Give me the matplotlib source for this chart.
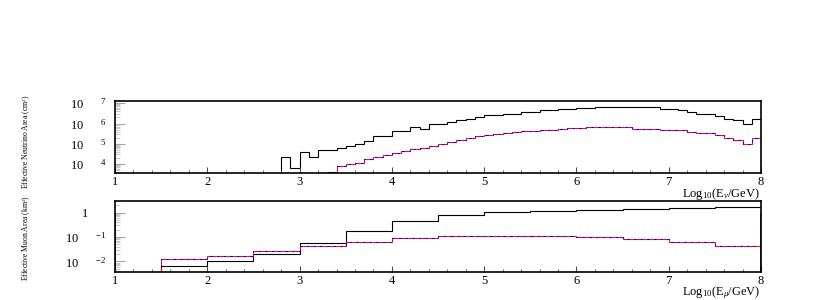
import numpy as np
import matplotlib
matplotlib.use("Agg")
import matplotlib.pyplot as plt
from matplotlib.ticker import LogLocator, NullFormatter, FixedLocator, MultipleLocator

plt.rcParams['font.family'] = ['Liberation Serif', 'DejaVu Serif']
plt.rcParams['mathtext.fontset'] = 'custom'
plt.rcParams['mathtext.rm'] = 'Liberation Serif'
plt.rcParams['mathtext.it'] = 'Liberation Serif:italic'

# neutrino effective area, log10(cm^2), bins of 0.1 in log10(E/GeV)
nu_black_start = 2.8
nu_black = [4.34, 3.82, 4.59, 4.36, 4.69, 4.69, 4.80, 4.91, 5.01, 5.15,
            5.38, 5.38, 5.62, 5.63, 5.82, 5.75, 6.00, 6.00, 6.08, 6.16,
            6.24, 6.33, 6.41, 6.41, 6.49, 6.49, 6.57, 6.57, 6.66, 6.66,
            6.72, 6.72, 6.77, 6.77, 6.82, 6.82, 6.82, 6.82, 6.81, 6.81,
            6.80, 6.72, 6.72, 6.66, 6.57, 6.49, 6.49, 6.36, 6.23, 6.16,
            5.98, 6.24]
nu_color_start = 3.2
nu_red = [3.50, 3.62, 3.90, 3.98, 4.06, 4.23, 4.34, 4.44,
          4.56, 4.64, 4.72, 4.80, 4.88, 5.00, 5.10, 5.18, 5.29, 5.38,
          5.42, 5.46, 5.51, 5.57, 5.62, 5.65, 5.68, 5.70, 5.74, 5.79,
          5.80, 5.82, 5.83, 5.83, 5.83, 5.83, 5.75, 5.75, 5.75, 5.70,
          5.70, 5.67, 5.59, 5.51, 5.51, 5.41, 5.29, 5.21, 5.01, 5.29]
nu_blue = [3.50, 3.62, 3.90, 3.98, 4.06, 4.23, 4.34, 4.44,
           4.56, 4.64, 4.72, 4.80, 4.88, 5.00, 5.10, 5.18, 5.29, 5.38,
           5.42, 5.46, 5.51, 5.57, 5.62, 5.65, 5.68, 5.70, 5.74, 5.79,
           5.80, 5.82, 5.83, 5.83, 5.83, 5.83, 5.75, 5.75, 5.75, 5.70,
           5.70, 5.67, 5.59, 5.51, 5.51, 5.41, 5.29, 5.21, 5.01, 5.29]

# muon effective area, log10(km^2), bins of 0.5
mu_start = 1.5
mu_black = [-2.18, -1.97, -1.69, -1.26, -0.74, -0.33, -0.09,
            0.02, 0.08, 0.11, 0.15, 0.18, 0.21]
mu_red = [-1.91, -1.76, -1.58, -1.37, -1.19, -1.05, -0.97,
          -0.95, -0.96, -1.01, -1.08, -1.19, -1.38]
mu_blue = [-1.91, -1.76, -1.58, -1.37, -1.19, -1.05, -0.97,
           -0.95, -0.96, -1.01, -1.08, -1.19, -1.38]
# the coloured histograms also leave a spike at both ends of the range
mu_spike_x = [1.0, 8.0]
mu_spike_val = [0.0, 0.0]

nu_ticks = [4, 5, 6, 7]
mu_ticks = [-2, -1, 0]


def edges(start, n, width):
    return np.round(start + width*np.arange(n + 1), 2)


def pow_label(e):
    # ROOT style: "10" with the exponent pushed well to the right
    if e == 0:
        return '1\u2003\u2002'
    return r'$\mathrm{10\qquad}^{%d}$' % e


def style(ax, ymin, ymax, ticks):
    ax.set_xlim(1, 8)
    ax.set_yscale('log')
    ax.set_ylim(10**ymin, 10**ymax)
    ax.xaxis.set_major_locator(MultipleLocator(1))
    ax.xaxis.set_minor_locator(MultipleLocator(0.2))
    ax.yaxis.set_major_locator(FixedLocator([10.0**t for t in ticks]))
    ax.yaxis.set_major_formatter(plt.FuncFormatter(lambda v, p: pow_label(int(round(np.log10(v))))))
    ax.yaxis.set_minor_locator(LogLocator(base=10, subs=np.arange(2, 10), numticks=20))
    ax.yaxis.set_minor_formatter(NullFormatter())
    ax.tick_params(axis='both', which='both', direction='in', labelsize=9)
    ax.tick_params(axis='x', which='major', length=4, color='0.3', pad=2)
    ax.tick_params(axis='x', which='minor', length=2, color='0.3')
    ax.tick_params(axis='y', which='major', length=7, color='0.65', pad=6)
    ax.tick_params(axis='y', which='minor', length=3.5, color='0.75')
    for s in ax.spines.values():
        s.set_linewidth(1.2)


fig = plt.figure(figsize=(8.3, 3.0), dpi=100)
ax1 = fig.add_axes([0.1386, 0.4233, 0.7783, 0.24])
ax2 = fig.add_axes([0.1386, 0.0933, 0.7783, 0.2367])

e_nb = edges(nu_black_start, len(nu_black), 0.1)
e_nc = edges(nu_color_start, len(nu_red), 0.1)
ax1.stairs(10**np.array(nu_black), e_nb, baseline=1e-3, color='black', lw=0.8)
ax1.stairs(10**np.array(nu_blue), e_nc, baseline=1e-3, color='blue', lw=0.8, ls=(0, (3, 3)))
ax1.stairs(10**np.array(nu_red), e_nc, baseline=1e-3, color='red', lw=0.8, ls=(3, (3, 3)))
style(ax1, 3.56, 7.11, nu_ticks)

e_mu = edges(mu_start, len(mu_black), 0.5)
ax2.stairs(10**np.array(mu_black), e_mu, baseline=1e-6, color='black', lw=0.8)
ax2.stairs(10**np.array(mu_blue), e_mu, baseline=1e-6, color='blue', lw=0.8, ls=(0, (3, 3)))
ax2.stairs(10**np.array(mu_red), e_mu, baseline=1e-6, color='red', lw=0.8, ls=(3, (3, 3)))
ax2.vlines(mu_spike_x, 1e-6, 10**np.array(mu_spike_val), color='blue', lw=1.2)
ax2.vlines(mu_spike_x, 1e-6, 10**np.array(mu_spike_val), color='red', lw=1.2, ls=(2, (3, 2)))
style(ax2, -2.43, 0.47, mu_ticks)

fig.text(760/830, 1 - 194/300, r'Log$_{10}$(E$_{\nu}$/GeV)', ha='right', va='center', fontsize=9)
fig.text(760/830, 1 - 293/300, r'Log$_{10}$(E$_{\mu}$/GeV)', ha='right', va='center', fontsize=9)
fig.text(27/830, 1 - 142/300, r'Effective Neutrino Area (cm$^{2}$)', rotation=90,
         ha='center', va='center', fontsize=5.5)
fig.text(27/830, 1 - 238/300, r'Effective Muon Area (km$^{2}$)', rotation=90,
         ha='center', va='center', fontsize=5.5)

fig.savefig('out.png', dpi=100)
